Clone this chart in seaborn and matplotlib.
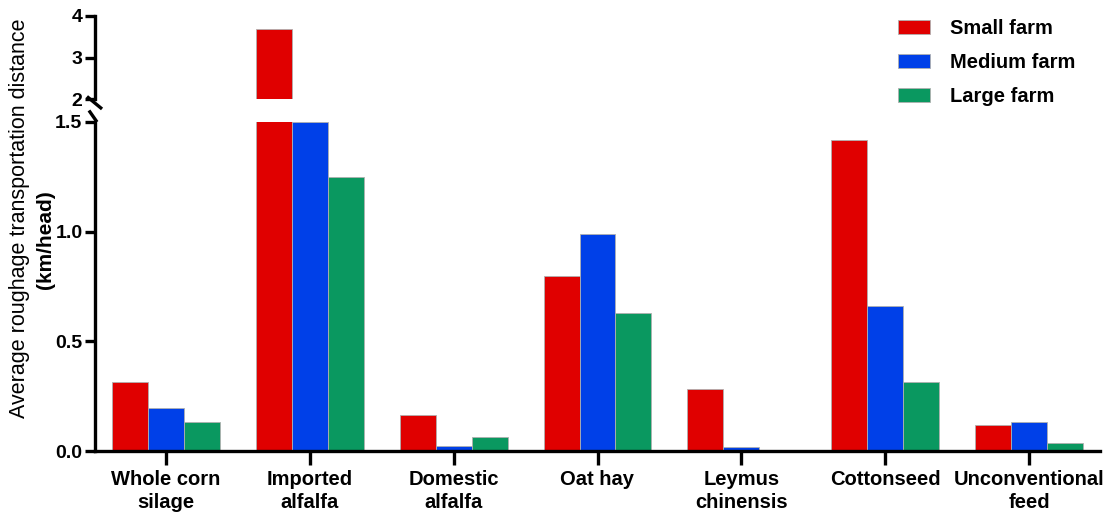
import numpy as np
import pandas as pd
import matplotlib
matplotlib.use("Agg")
import matplotlib.pyplot as plt
import seaborn as sns

# Roughage categories and average transport distance (km/head) by farm size
categories = ["Whole corn\nsilage", "Imported\nalfalfa", "Domestic\nalfalfa", "Oat hay",
              "Leymus\nchinensis", "Cottonseed", "Unconventional\nfeed"]
farm_sizes = ["Small farm", "Medium farm", "Large farm"]
small_farm = [0.314, 3.69, 0.164, 0.80, 0.281, 1.42, 0.118]
medium_farm = [0.196, 1.50, 0.024, 0.989, 0.018, 0.662, 0.131]
large_farm = [0.132, 1.248, 0.065, 0.63, 0.0, 0.316, 0.038]
colors = ["#E00000", "#0040E8", "#0A9860"]

lower_ticks = [0.0, 0.5, 1.0, 1.5]
upper_ticks = [2, 3, 4]

df = pd.DataFrame({
    "category": categories * 3,
    "farm": [f for f in farm_sizes for _ in categories],
    "value": small_farm + medium_farm + large_farm,
})

sns.set_theme(style="ticks")
plt.rcParams["font.family"] = ["Liberation Sans", "DejaVu Sans"]
plt.rcParams.update({"text.color": "black", "axes.edgecolor": "black",
                     "xtick.color": "black", "ytick.color": "black",
                     "axes.labelcolor": "black"})

fig = plt.figure(figsize=(11.06, 5.19), dpi=100)
ax_lo = fig.add_axes([95 / 1106, 1 - 451 / 519, 1005 / 1106, 329 / 519])
ax_hi = fig.add_axes([95 / 1106, 1 - 99 / 519, 1005 / 1106, 83 / 519], sharex=ax_lo)

for ax in (ax_lo, ax_hi):
    sns.barplot(data=df, x="category", y="value", hue="farm", hue_order=farm_sizes,
                palette=colors, width=0.75, edgecolor="#b0b0b0", linewidth=0.6,
                saturation=1, ax=ax, legend=(ax is ax_lo), errorbar=None)
    ax.set_xlabel("")
    ax.set_ylabel("")
    sns.despine(ax=ax)
    for s in ("left", "bottom"):
        ax.spines[s].set_linewidth(2.4)
        ax.spines[s].set_color("black")
    ax.tick_params(axis="y", length=7, width=2.4, labelsize=14, pad=2, colors="black")

ax_lo.set_ylim(0, 1.5)
ax_lo.set_yticks(lower_ticks)
ax_lo.set_yticklabels(["0.0", "0.5", "1.0", "1.5"], fontweight="bold", fontsize=14)
ax_lo.set_xlim(-0.49, 6.49)
ax_lo.tick_params(axis="x", length=10, width=2.4, labelsize=14.5, pad=4, colors="black")
for lab in ax_lo.get_xticklabels():
    lab.set_fontweight("bold")
    lab.set_linespacing(1.25)

ax_hi.set_ylim(2, 4)
ax_hi.set_yticks(upper_ticks)
ax_hi.set_yticklabels([str(t) for t in upper_ticks], fontweight="bold", fontsize=14)
ax_hi.spines["bottom"].set_visible(False)
ax_hi.tick_params(axis="x", bottom=False, labelbottom=False)

# Break marks on the y axis
kw = dict(color="black", lw=2.4, clip_on=False, solid_capstyle="butt")
ax_hi.plot([-0.008, 0.007], [0.03, -0.12], transform=ax_hi.transAxes, **kw)
ax_lo.plot([-0.006, 0.002], [1.035, 1.0], transform=ax_lo.transAxes, **kw)

# Legend
handles, labels = ax_lo.get_legend_handles_labels()
ax_lo.get_legend().remove()
fig.legend(handles, labels, loc="upper left", bbox_to_anchor=(880 / 1106, 1 - 1 / 519),
           frameon=False, prop={"weight": "bold", "size": 14.5}, handlelength=1.6,
           handleheight=0.7, handletextpad=1.0, labelspacing=0.75)

# Y axis title: first line regular, unit line bold
fig.text(20 / 1106, 1 - 218 / 519, "Average roughage transportation distance", rotation=90,
         ha="center", va="center", fontsize=15.5)
fig.text(45 / 1106, 1 - 240 / 519, "(km/head)", rotation=90, ha="center", va="center",
         fontsize=15, fontweight="bold")

fig.savefig("out.png", dpi=100)
